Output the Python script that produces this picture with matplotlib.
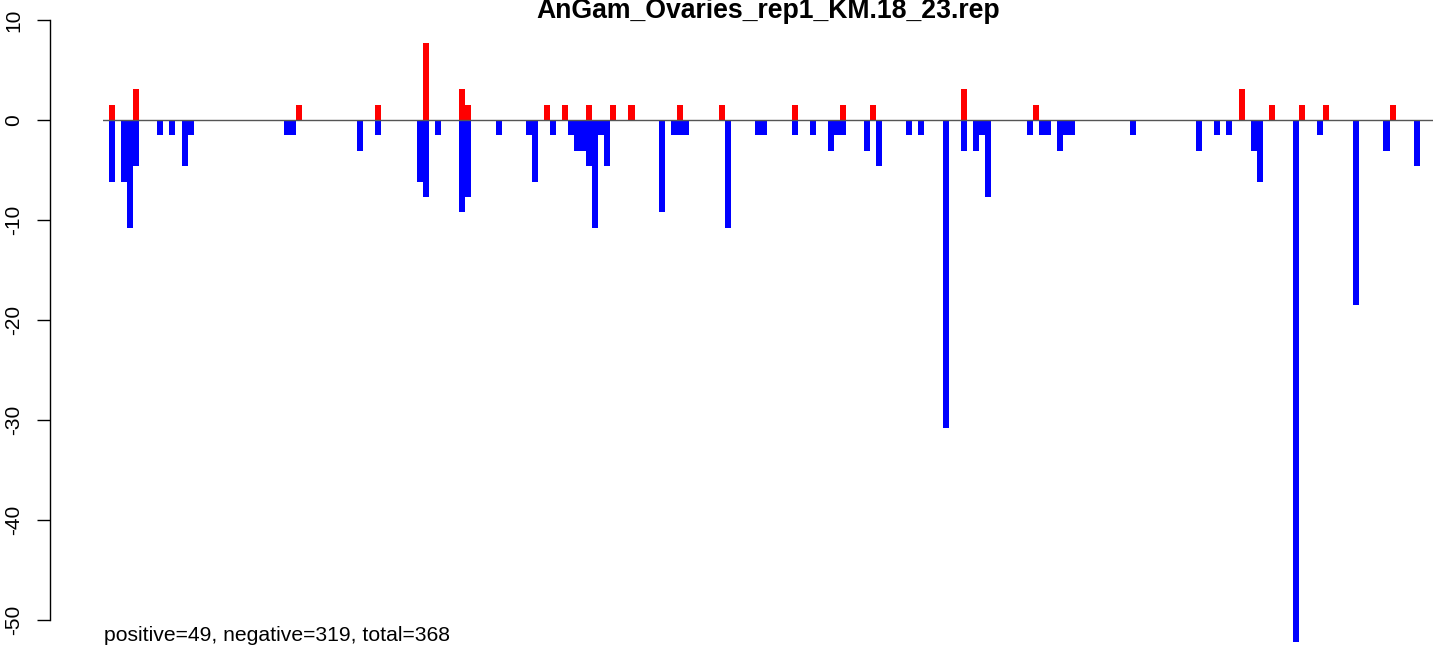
import matplotlib.pyplot as plt
import numpy as np

plt.rcParams['font.family'] = ['Liberation Sans', 'DejaVu Sans']

title = 'AnGam_Ovaries_rep1_KM.18_23.rep'
summary = 'positive=49, negative=319, total=368'

# positive strand (red), slot index and height
pos_x = [0, 4, 31, 44, 52, 58, 59, 72, 75, 79, 83, 86, 94, 101, 113, 121,
         126, 141, 153, 187, 192, 197, 201, 212]
pos_y = [1.54, 3.08, 1.54, 1.54, 7.7, 3.08, 1.54, 1.54, 1.54, 1.54, 1.54,
         1.54, 1.54, 1.54, 1.54, 1.54, 1.54, 3.08, 1.54, 3.08, 1.54, 1.54,
         1.54, 1.54]

# negative strand (blue)
neg_x = [0, 2, 3, 4, 8, 10, 12, 13, 29, 30, 41, 44, 51, 52, 54, 58, 59, 64,
         69, 70, 73, 76, 77, 78, 79, 80, 81, 82, 91, 93, 94, 95, 102, 107,
         108, 113, 116, 119, 120, 121, 125, 127, 132, 134, 138, 141, 143,
         144, 145, 152, 154, 155, 157, 158, 159, 169, 180, 183, 185, 189,
         190, 196, 200, 206, 211, 216]
neg_y = [-6.16, -6.16, -10.78, -4.62, -1.54, -1.54, -4.62, -1.54, -1.54,
         -1.54, -3.08, -1.54, -6.16, -7.7, -1.54, -9.24, -7.7, -1.54, -1.54,
         -6.16, -1.54, -1.54, -3.08, -3.08, -4.62, -10.78, -1.54, -4.62,
         -9.24, -1.54, -1.54, -1.54, -10.78, -1.54, -1.54, -1.54, -1.54,
         -3.08, -1.54, -1.54, -3.08, -4.62, -1.54, -1.54, -30.8, -3.08,
         -3.08, -1.54, -7.7, -1.54, -1.54, -1.54, -3.08, -1.54, -1.54,
         -1.54, -3.08, -1.54, -1.54, -3.08, -6.16, -52.2, -1.54, -18.48,
         -3.08, -4.62]

yticks = [-50, -40, -30, -20, -10, 0, 10]

W, H = 1433, 645
fig = plt.figure(figsize=(W / 100, H / 100), dpi=100)
ax = fig.add_axes([103 / W, 0, 1 - 103 / W, 1 - 19 / H])

ax.bar(pos_x, pos_y, width=1, align='edge', color='#ff0000', linewidth=0)
ax.bar(neg_x, neg_y, width=1, align='edge', color='#0000ff', linewidth=0)
ax.axhline(0, color='#555555', lw=1, zorder=3)

ax.set_xlim(-1, 219.2)
ax.set_ylim(-52.5, 10.1)

# R style left axis, pushed out from the plot region
for s in ['top', 'right', 'bottom']:
    ax.spines[s].set_visible(False)
ax.spines['left'].set_position(('outward', 38))
ax.spines['left'].set_bounds(-50, 10)
ax.spines['left'].set_linewidth(1)
ax.set_xticks([])
ax.set_yticks(yticks)
ax.set_yticklabels([str(t) for t in yticks], rotation=90, va='center',
                   fontsize=15)
ax.tick_params(axis='y', length=9.5, width=1, pad=10)

fig.text((103 + W) / 2 / W, 1 - 18 / H, title, ha='center', va='baseline',
         fontsize=19.2, fontweight='bold')
fig.text(104 / W, 4 / H, summary, ha='left', va='baseline', fontsize=15.2)

fig.savefig('out.png', dpi=100)
